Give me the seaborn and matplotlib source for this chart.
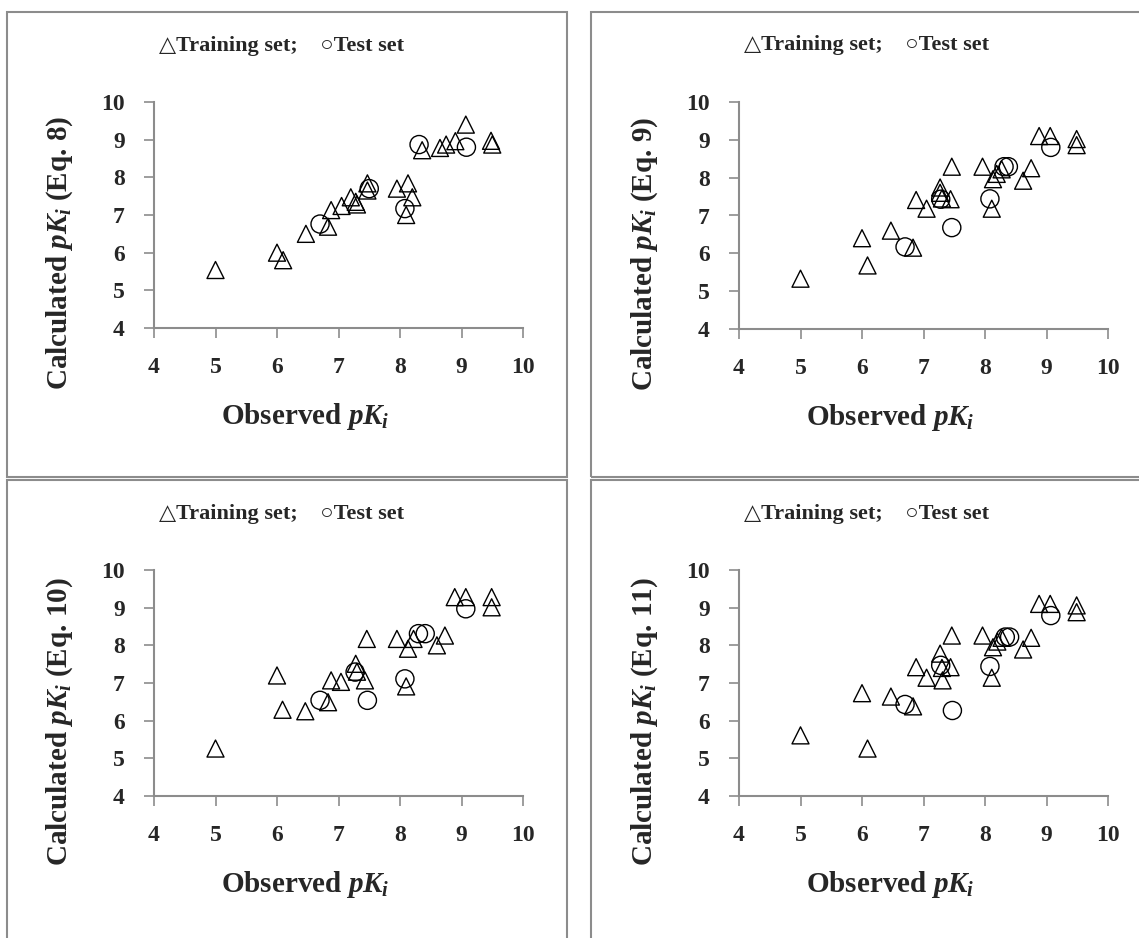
import matplotlib
matplotlib.use("Agg")
import matplotlib.pyplot as plt
import seaborn as sns
from matplotlib.patches import Rectangle

# Observed / calculated pKi
eq8_train_obs = [5.0, 6.0, 6.1, 6.47, 6.83, 6.88, 7.05, 7.2, 7.28, 7.3, 7.47, 7.47, 7.95, 8.13, 8.2, 8.1,
                 8.36, 8.65, 8.75, 8.9, 9.07, 9.48, 9.5]
eq8_train_calc = [5.54, 6.0, 5.8, 6.5, 6.69, 7.13, 7.24, 7.47, 7.35, 7.28, 7.84, 7.65, 7.7, 7.84, 7.47, 7.0,
                  8.72, 8.78, 8.87, 8.96, 9.4, 8.97, 8.87]
eq8_test_obs = [6.7, 7.5, 8.08, 8.31, 9.08]
eq8_test_calc = [6.76, 7.7, 7.17, 8.87, 8.8]

eq9_train_obs = [5.0, 6.0, 6.09, 6.47, 6.83, 6.88, 7.05, 7.27, 7.27, 7.3, 7.44, 7.46, 7.96, 8.11, 8.13, 8.19,
                 8.27, 8.62, 8.75, 8.88, 9.06, 9.49, 9.49]
eq9_train_calc = [5.33, 6.4, 5.68, 6.6, 6.15, 7.41, 7.18, 7.74, 7.6, 7.45, 7.43, 8.29, 8.29, 7.18, 7.96, 8.1,
                  8.22, 7.92, 8.25, 9.1, 9.1, 9.02, 8.86]
eq9_test_obs = [6.7, 7.28, 7.46, 8.08, 8.31, 8.38, 9.07]
eq9_test_calc = [6.17, 7.43, 6.68, 7.44, 8.29, 8.29, 8.8]

eq10_train_obs = [5.0, 6.0, 6.09, 6.46, 6.83, 6.88, 7.04, 7.28, 7.3, 7.43, 7.46, 7.95, 8.13, 8.1, 8.22,
                  8.6, 8.73, 8.89, 9.07, 9.49, 9.49]
eq10_train_calc = [5.26, 7.2, 6.29, 6.25, 6.49, 7.07, 7.03, 7.51, 7.3, 7.07, 8.17, 8.17, 7.91, 6.91, 8.17,
                   8.0, 8.26, 9.28, 9.28, 9.28, 9.01]
eq10_test_obs = [6.7, 7.27, 7.47, 8.08, 8.3, 8.41, 9.07]
eq10_test_calc = [6.54, 7.29, 6.54, 7.11, 8.31, 8.31, 8.97]

eq11_train_obs = [5.0, 6.0, 6.09, 6.47, 6.83, 6.88, 7.05, 7.27, 7.31, 7.3, 7.44, 7.46, 7.96, 8.11, 8.13, 8.2,
                  8.27, 8.62, 8.75, 8.88, 9.06, 9.49, 9.49]
eq11_train_calc = [5.61, 6.73, 5.26, 6.64, 6.38, 7.42, 7.14, 7.78, 7.07, 7.4, 7.42, 8.26, 8.26, 7.14, 7.95, 8.1,
                   8.2, 7.89, 8.2, 9.1, 9.1, 9.06, 8.88]
eq11_test_obs = [6.7, 7.28, 7.47, 8.08, 8.33, 8.4, 9.07]
eq11_test_calc = [6.43, 7.47, 6.27, 7.44, 8.22, 8.22, 8.79]

eq_labels = ["8", "9", "10", "11"]
ticks = [4, 5, 6, 7, 8, 9, 10]

panels = [
    (eq8_train_obs, eq8_train_calc, eq8_test_obs, eq8_test_calc),
    (eq9_train_obs, eq9_train_calc, eq9_test_obs, eq9_test_calc),
    (eq10_train_obs, eq10_train_calc, eq10_test_obs, eq10_test_calc),
    (eq11_train_obs, eq11_train_calc, eq11_test_obs, eq11_test_calc),
]

sns.set_style("white")
plt.rcParams["font.family"] = ["Liberation Serif", "DejaVu Sans"]
plt.rcParams["mathtext.fontset"] = "custom"
plt.rcParams["mathtext.rm"] = "Liberation Serif:bold"
plt.rcParams["mathtext.it"] = "Liberation Serif:italic:bold"

W, H = 1139, 938
fig = plt.figure(figsize=(W / 100, H / 100), dpi=100)
gray = "#8c8c8c"

# panel frames (pixel boxes: left, top, right, bottom)
frames = [(7, 12, 567, 477), (591, 12, 1145, 477), (7, 480, 567, 945), (591, 480, 1145, 945)]
for l, t, r, b in frames:
    fig.patches.append(Rectangle((l / W, 1 - b / H), (r - l) / W, (b - t) / H, transform=fig.transFigure,
                                 fill=False, edgecolor=gray, linewidth=1.5))

# axes boxes in pixels: x of value 4, x of value 10, y of value 4, y of value 10
axes_px = [(154, 523, 328, 102), (739, 1108, 329, 102), (154, 523, 796, 570), (739, 1108, 796, 570)]

for i, (x0, x1, y0, y1) in enumerate(axes_px):
    ax = fig.add_axes([x0 / W, 1 - y0 / H, (x1 - x0) / W, (y0 - y1) / H])
    tr_x, tr_y, te_x, te_y = panels[i]
    sns.scatterplot(x=tr_x, y=tr_y, marker="^", s=150, facecolors="none", edgecolors="black",
                    linewidth=1.0, ax=ax, clip_on=False)
    sns.scatterplot(x=te_x, y=te_y, marker="o", s=170, facecolors="none", edgecolors="black",
                    linewidth=1.0, ax=ax, clip_on=False)
    ax.set_xlim(4, 10)
    ax.set_ylim(4, 10)
    ax.set_xticks(ticks)
    ax.set_yticks(ticks)
    ax.set_xticklabels([str(t) for t in ticks], fontsize=17, fontweight="bold")
    ax.set_yticklabels([str(t) for t in ticks], fontsize=17, fontweight="bold")
    for side in ["top", "right"]:
        ax.spines[side].set_visible(False)
    for side in ["left", "bottom"]:
        ax.spines[side].set_color(gray)
        ax.spines[side].set_linewidth(1.5)
    ax.tick_params(axis="both", direction="out", length=7, width=1.2, color=gray, pad=14, left=True, bottom=True)
    ax.set_facecolor("none")

    ax.set_xlabel(r"Observed $pK_i$", fontsize=21, fontweight="bold", va="center")
    ax.xaxis.set_label_coords(0.41, -0.39)
    ax.set_ylabel(r"Calculated $pK_i$ (Eq. %s)" % eq_labels[i], fontsize=21, fontweight="bold", va="center")
    ax.yaxis.set_label_coords(-0.255, 0.33)

    ax.text(0.345, 1.25, "\u25b3Training set;    \u25cbTest set", transform=ax.transAxes,
            ha="center", va="center", fontsize=16, fontweight="bold")

fig.savefig("out.png", dpi=100, facecolor="white")
